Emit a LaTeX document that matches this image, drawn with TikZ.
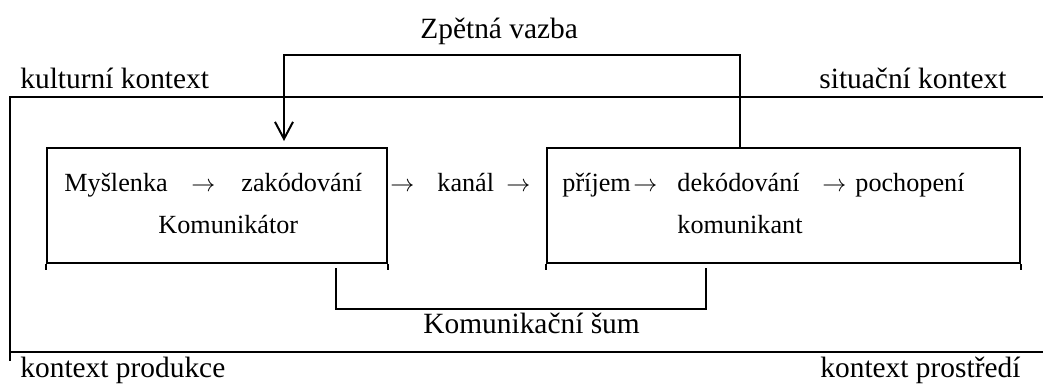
\documentclass[tikz,border=0pt]{standalone}
\usepackage{fontspec}
\setmainfont{Liberation Serif}
\usetikzlibrary{arrows.meta}
\begin{document}
\begin{tikzpicture}[x=0.5pt,y=-0.5pt,
  ln/.style={line width=1pt},
  lbl/.style={anchor=base west,inner sep=0pt,font=\fontsize{14.7}{17}\selectfont},
  sml/.style={anchor=base west,inner sep=0pt,font=\fontsize{13.1}{15}\selectfont},
  box/.style={draw,line width=1pt,anchor=north west,inner sep=0pt},
  fbarrow/.style={-{Straight Barb[length=8.5pt,width=9pt,line width=1pt]}}]
\useasboundingbox (0,0) rectangle (1043,388);
% outer frame
\coordinate (tr) at (1043,97);
\coordinate (tl) at (10,97);
\coordinate (bl) at (10,361);
\coordinate (bls) at (10,352);
\coordinate (br) at (1043,352);
\draw[ln] (tr) -- (tl) -- (bl);
\draw[ln] (bls) -- (br);
% boxes
\node[box,minimum width=170pt,minimum height=57.5pt] (lbox) at (46,147) {};
\node[box,minimum width=236.5pt,minimum height=57.5pt] (rbox) at (546,147) {};
\draw[ln] (lbox.south west) -- ++(0,6);
\draw[ln] (lbox.south east) -- ++(0,6);
\draw[ln] (rbox.south west) -- ++(0,6);
\draw[ln] (rbox.south east) -- ++(0,6);
% labels
\node[lbl] (zv) at (420,38) {Zpětná vazba};
\node[lbl] (kk) at (20,88) {kulturní kontext};
\node[lbl] (sk) at (819,88) {situační kontext};
\node[lbl] (kp) at (20,377) {kontext produkce};
\node[lbl] (kpr) at (820,377) {kontext prostředí};
\node[sml] (mys) at (64,191) {Myšlenka};
\node[sml] (a1) at (191,191) {$\rightarrow$};
\node[sml] (zak) at (241,191) {zakódování};
\node[sml] (a2) at (390,191) {$\rightarrow$};
\node[sml] (kan) at (437,191) {kanál};
\node[sml] (a3) at (506,191) {$\rightarrow$};
\node[sml] (pri) at (562,191) {příjem};
\node[sml] (a4) at (633,191) {$\rightarrow$};
\node[sml] (dek) at (677,191) {dekódování};
\node[sml] (a5) at (822,191) {$\rightarrow$};
\node[sml] (poc) at (855,191) {pochopení};
\node[sml] (kom) at (158,233) {Komunikátor};
\node[sml] (kmt) at (677,233) {komunikant};
\node[lbl] (sum) at (423,333) {Komunikační šum};
% feedback
\coordinate (fbR) at (740,55);
\coordinate (fbL) at (284,55);
\coordinate (fbT) at (284,141);
\draw[ln,fbarrow] (rbox.north -| fbR) -- (fbR) -- (fbL) -- (fbT);
% noise
\coordinate (nL) at (336,309);
\coordinate (nR) at (706,309);
\draw[ln] ([yshift=-2]lbox.south -| nL) -- (nL) -- (nR) -- ([yshift=-2]rbox.south -| nR);
\end{tikzpicture}
\end{document}
